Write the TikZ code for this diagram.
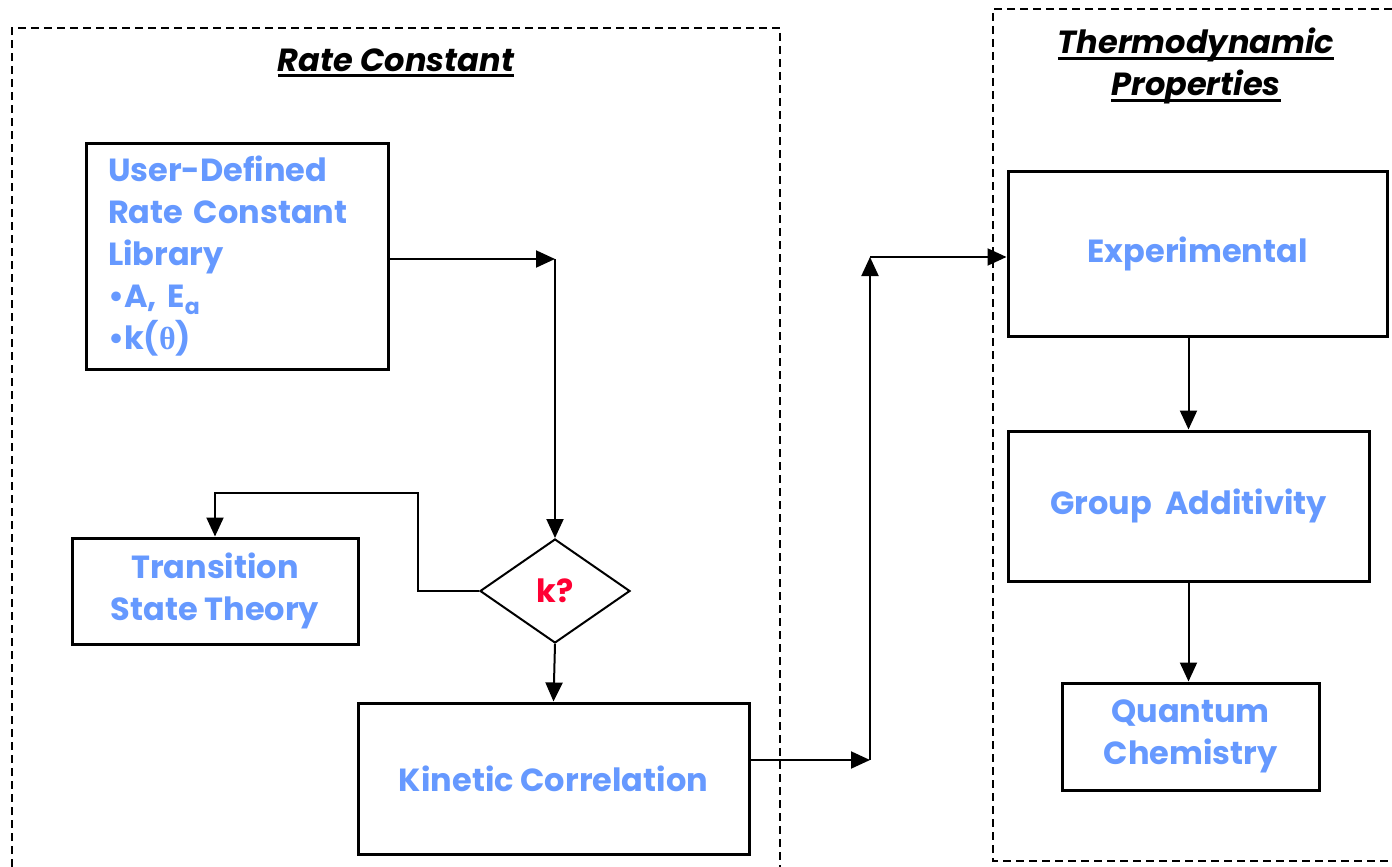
\documentclass[tikz,border=0pt]{standalone}
\usepackage{fontspec}
\setmainfont{Poppins}
\newfontfamily\greekfont{Liberation Serif}
\usetikzlibrary{arrows.meta,shapes.geometric}
\definecolor{labelblue}{HTML}{6699FF}
\definecolor{kred}{HTML}{FF0033}
% underline with a heavy bar
\newcommand\ulined[1]{\setbox0\hbox{#1}\rlap{\rule[-6pt]{\wd0}{3pt}}\box0}
\begin{document}
\begin{tikzpicture}[x=1pt,y=-1pt,
  box/.style={draw, line width=3pt, text=labelblue, font=\fontsize{32}{42}\selectfont\bfseries, align=center, inner sep=0pt},
  conn/.style={line width=2pt},
  arr/.style={conn, -{Triangle[length=19pt,width=17pt]}},
  region/.style={line width=1.6pt, dash pattern=on 8pt off 5pt},
  title/.style={font=\fontsize{32}{42}\selectfont\bfseries\itshape, align=center}
]
\useasboundingbox (0,0) rectangle (1392,867);

% dashed regions
\draw[region] (12,867) -- (12,28) -- (780,28) -- (780,867);
\draw[region] (1392,9) -- (993,9) -- (993,861) -- (1392,861);

% titles
\node[title] (rc) at (396,63) {\ulined{Rate Constant}};
\node[title] (tp) at (1196,66) {\ulined{Thermodynamic}\\\ulined{Properties}};

% rate constant side
\node[box, minimum width=302pt, minimum height=226pt, text width=258pt, align=left] (ud) at (237,256)
  {User-Defined\\Rate Constant\\Library\\•A, E\raisebox{-7pt}{\fontsize{22}{22}\selectfont a}\\•k({\greekfont θ})};
\node[diamond, draw, line width=2pt, minimum width=150pt, minimum height=104pt, aspect=1.44, inner sep=0pt,
  text=kred, font=\fontsize{32}{34}\selectfont\bfseries] (dec) at (555,591) {k?};
\node[box, minimum width=286pt, minimum height=106pt] (tst) at (215,591) {Transition\\State Theory};
\node[box, minimum width=391pt, minimum height=151pt] (kin) at (553.5,778.5) {Kinetic Correlation};

% thermodynamic side
\node[box, minimum width=379pt, minimum height=165pt] (exp) at (1197.5,253.5) {Experimental};
\node[box, minimum width=361pt, minimum height=150pt] (grp) at (1188.5,506) {Group\ \ Additivity};
\node[box, minimum width=257pt, minimum height=107pt] (qc) at (1190.5,736.5) {Quantum\\Chemistry};

% junction points
\coordinate (j1) at (555,259);
\coordinate (t1) at (418,493);
\coordinate (j2) at (870,760);
\coordinate (j3) at (870,257);

% connectors
\draw[arr] (ud.east |- j1) -- (j1);
\draw[arr] (j1) -- (dec.north);
\draw[arr] (dec.west) -| (t1) -| (tst.north);
\draw[arr] (dec.south) -- (kin.north);
\draw[arr] (kin.east |- j2) -- (j2);
\draw[arr] (j2) -- (j3);
\draw[arr] (j3) -- (exp.west |- j3);
\draw[arr] (grp.north |- exp.south) -- (grp.north);
\draw[arr] (grp.south) -- (grp.south |- qc.north);
\end{tikzpicture}
\end{document}
